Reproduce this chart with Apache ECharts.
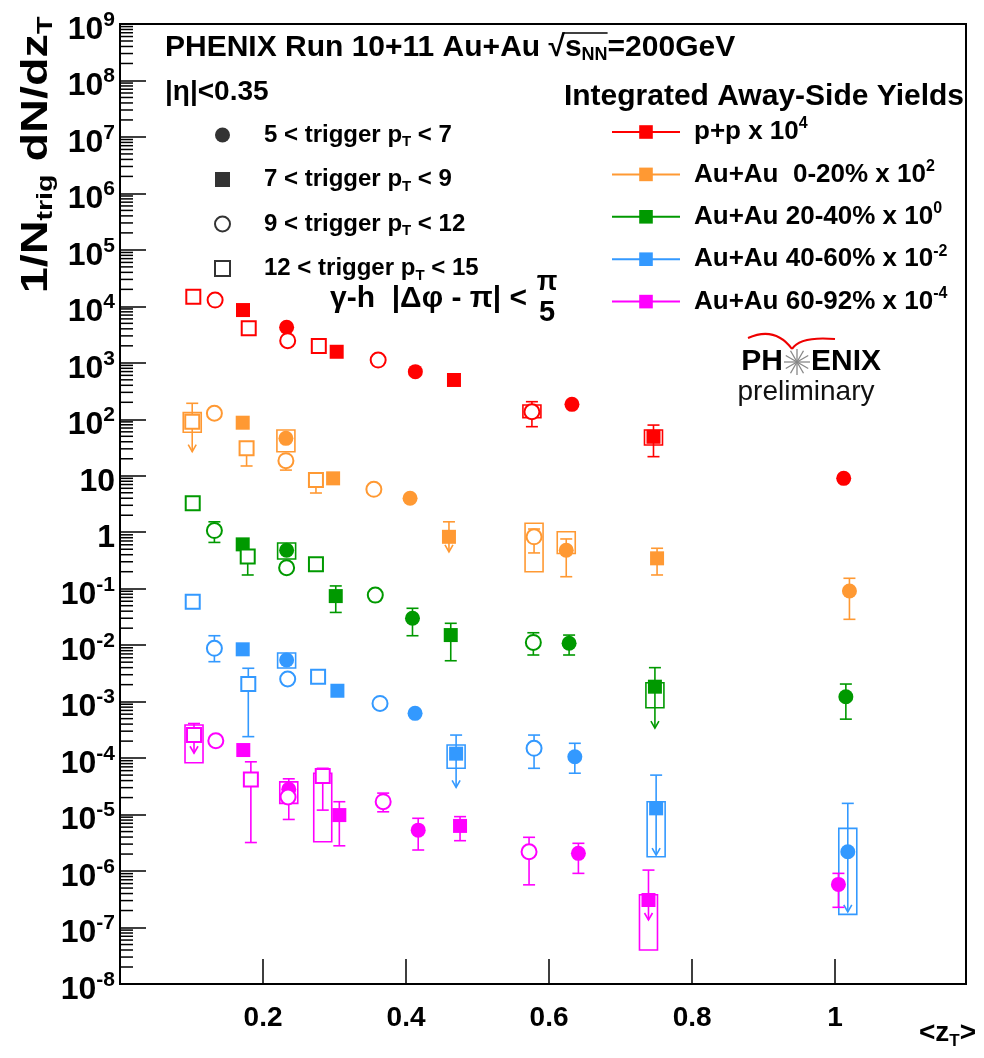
<!DOCTYPE html>
<html><head><meta charset="utf-8">
<script src="https://cdn.jsdelivr.net/npm/echarts@6/dist/echarts.min.js"></script>
<style>html,body{margin:0;padding:0;background:#fff}#c{width:984px;height:1058px}</style>
</head><body><div id="c"></div>
<script>
// ---------------- DATA ----------------
// row: [zT, yield, marker, statLo, statHi, sysLo, sysHi, upperLimitArrowTip]
// markers: fc = 5<pT<7, fs = 7<pT<9, oc = 9<pT<12, os = 12<pT<15
const ppRows = [
  [0.1025, 14800, 'os'], [0.133, 12900, 'oc'], [0.172, 8600, 'fs'], [0.180, 4100, 'os'],
  [0.233, 4260, 'fc'], [0.2345, 2470, 'oc'], [0.278, 1990, 'os'], [0.303, 1570, 'fs'],
  [0.361, 1120, 'oc'], [0.413, 697, 'fc'], [0.467, 497, 'fs'],
  [0.576, 136, 'oc', 74, 205, 107, 179], [0.632, 184, 'fc'],
  [0.746, 49, 'fs', 21.8, 79, 35, 64.6], [1.012, 9.0, 'fc']
];
const auau0020Rows = [
  [0.101, 90.7, 'os', null, 192, 58.9, 131, 26.7], [0.132, 128, 'oc'], [0.1716, 87, 'fs'],
  [0.177, 30.6, 'os', 14.9, null], [0.232, 46, 'fc', null, null, 26.7, 64.6],
  [0.232, 18.5, 'oc', 12.6, null], [0.274, 8.4, 'os', 4.95, null], [0.298, 9.0, 'fs'],
  [0.355, 5.75, 'oc'], [0.4056, 4.0, 'fc'], [0.460, 0.83, 'fs', null, 1.53, null, null, 0.45],
  [0.579, 0.83, 'oc', 0.43, 1.14, 0.20, 1.44], [0.624, 0.48, 'fc', 0.163, 0.76, 0.42, 1.02],
  [0.751, 0.345, 'fs', 0.175, 0.52], [1.020, 0.091, 'fc', 0.0287, 0.153]
];
const auau2040Rows = [
  [0.1017, 3.25, 'os'], [0.132, 1.07, 'oc', 0.66, 1.53], [0.1716, 0.61, 'fs'],
  [0.1786, 0.37, 'os', 0.175, null], [0.233, 0.48, 'fc', null, null, 0.336, 0.644],
  [0.233, 0.235, 'oc'], [0.274, 0.27, 'os'], [0.3017, 0.074, 'fs', 0.038, 0.112],
  [0.357, 0.077, 'oc'], [0.409, 0.030, 'fc', 0.0147, 0.045], [0.4625, 0.0151, 'fs', 0.0053, 0.0244],
  [0.578, 0.0112, 'oc', 0.0067, 0.0166], [0.628, 0.0108, 'fc', 0.0067, 0.0151],
  [0.748, 0.00184, 'fs', null, 0.0040, 0.00078, 0.00216, 0.00034], [1.015, 0.00122, 'fc', 0.00049, 0.00205]
];
const auau4060Rows = [
  [0.1017, 0.059, 'os'], [0.132, 0.0088, 'oc', 0.0051, 0.0147], [0.1716, 0.00845, 'fs'],
  [0.1794, 0.00205, 'os', 0.00024, 0.0039], [0.233, 0.00546, 'fc', null, null, 0.00394, 0.00726],
  [0.2345, 0.00252, 'oc'], [0.277, 0.00277, 'os'], [0.304, 0.00156, 'fs'], [0.3636, 0.00093, 'oc'],
  [0.4126, 0.00062, 'fc'], [0.470, 1.2e-4, 'fs', null, 2.56e-4, 6.6e-5, 1.71e-4, 3.04e-5],
  [0.579, 1.49e-4, 'oc', 6.6e-5, 2.56e-4], [0.636, 1.06e-4, 'fc', 5.4e-5, 1.83e-4],
  [0.7497, 1.29e-5, 'fs', null, 5.0e-5, 1.79e-6, 1.69e-5, 1.92e-6],
  [1.0177, 2.2e-6, 'fc', null, 1.58e-5, 1.71e-7, 5.7e-6, 1.9e-7]
];
const auau6092Rows = [
  [0.1035, 2.57e-4, 'os', null, 4.1e-4, 8.3e-5, 3.85e-4, 1.22e-4], [0.134, 2.03e-4, 'oc'],
  [0.1724, 1.39e-4, 'fs'], [0.183, 4.2e-5, 'os', 3.2e-6, 8.6e-5],
  [0.236, 2.8e-5, 'fc', 8.2e-6, 4.3e-5, 1.58e-5, 3.8e-5], [0.235, 2.05e-5, 'oc'],
  [0.2835, 4.8e-5, 'os', 1.2e-5, 6.6e-5, 3.3e-6, 5.4e-5], [0.3067, 9.8e-6, 'fs', 2.8e-6, 1.69e-5],
  [0.368, 1.69e-5, 'oc', 1.12e-5, 2.4e-5], [0.417, 5.3e-6, 'fc', 2.36e-6, 8.6e-6],
  [0.4755, 6.3e-6, 'fs', 3.45e-6, 9.2e-6], [0.572, 2.2e-6, 'oc', 5.7e-7, 3.96e-6],
  [0.641, 2.06e-6, 'fc', 9.1e-7, 3.1e-6], [0.739, 3.07e-7, 'fs', null, 1.04e-6, 4.0e-8, 3.8e-7, 1.36e-7],
  [1.0046, 5.8e-7, 'fc', 2.28e-7, 9.1e-7]
];
const groupNames = ['pp', 'auau0020', 'auau2040', 'auau4060', 'auau6092'];
const groupRows = [ppRows, auau0020Rows, auau2040Rows, auau4060Rows, auau6092Rows];
const groupLegend = [['p+p x 10', '4'], ['Au+Au  0-20% x 10', '2'], ['Au+Au 20-40% x 10', '0'],
                     ['Au+Au 40-60% x 10', '-2'], ['Au+Au 60-92% x 10', '-4']];
const triggerLegend = [['5 < trigger p', 'T', ' < 7'], ['7 < trigger p', 'T', ' < 9'],
                       ['9 < trigger p', 'T', ' < 12'], ['12 < trigger p', 'T', ' < 15']];
const triggerKeys = ['fc', 'fs', 'oc', 'os'];
const xTickLabels = ['0.2', '0.4', '0.6', '0.8', '1'];

// ---------------- STYLE ----------------
const COLORS = ['#ff0000', '#ff9933', '#009900', '#3399ff', '#ff00ff'];
const FONT = 'Liberation Sans, Arial, sans-serif';
const SYM = {fc: 'circle', fs: 'rect', oc: 'emptyCircle', os: 'emptyRect'};
const SYMSIZE = {fc: 15, fs: 14, oc: 15, os: 14};

const chart = echarts.init(document.getElementById('c'), null, {renderer: 'canvas'});

const series = [];
groupRows.forEach((rows, gi) => {
  const col = COLORS[gi];
  series.push({
    type: 'custom', name: groupNames[gi] + '_err', z: 2, clip: false, silent: true,
    data: rows.map(r => [r[0], r[1]]),
    renderItem: (params, api) => {
      const r = rows[params.dataIndex];
      const p = api.coord([r[0], r[1]]);
      const ch = [];
      const ls = {stroke: col, lineWidth: 1.6, fill: null};
      if (r[5] != null && r[6] != null) {
        const a = api.coord([r[0], r[6]]), b = api.coord([r[0], r[5]]);
        ch.push({type: 'rect', shape: {x: p[0] - 9, y: a[1], width: 18, height: b[1] - a[1]}, style: {stroke: col, lineWidth: 1.6, fill: 'none'}});
      }
      if (r[4] != null) {
        const h = api.coord([r[0], r[4]]);
        ch.push({type: 'line', shape: {x1: p[0], y1: p[1], x2: p[0], y2: h[1]}, style: ls});
        ch.push({type: 'line', shape: {x1: p[0] - 6, y1: h[1], x2: p[0] + 6, y2: h[1]}, style: ls});
      }
      if (r[3] != null) {
        const l = api.coord([r[0], r[3]]);
        ch.push({type: 'line', shape: {x1: p[0], y1: p[1], x2: p[0], y2: l[1]}, style: ls});
        ch.push({type: 'line', shape: {x1: p[0] - 6, y1: l[1], x2: p[0] + 6, y2: l[1]}, style: ls});
      }
      if (r[7] != null) {
        const t = api.coord([r[0], r[7]]);
        ch.push({type: 'line', shape: {x1: p[0], y1: p[1], x2: p[0], y2: t[1]}, style: ls});
        ch.push({type: 'polyline', shape: {points: [[p[0] - 4, t[1] - 7], [p[0], t[1]], [p[0] + 4, t[1] - 7]]}, style: ls});
      }
      return {type: 'group', children: ch};
    }
  });
  series.push({
    type: 'scatter', name: groupNames[gi], z: 3, silent: true,
    itemStyle: {color: col, opacity: 1},
    data: rows.map(r => ({value: [r[0], r[1]], symbol: SYM[r[2]], symbolSize: SYMSIZE[r[2]]}))
  });
  // legend proxy
  series.push({type: 'line', name: 'L' + gi, data: [], symbol: 'rect', color: col, lineStyle: {width: 1.6}});
});
triggerKeys.forEach((k, i) => {
  series.push({type: 'scatter', name: 'T' + i, data: [], symbol: SYM[k], color: '#000'});
});
// y minor ticks (axis decoration)
const yMinor = [];
for (let n = -8; n < 9; n++) for (let k = 2; k < 10; k++) yMinor.push([0, k * Math.pow(10, n)]);
series.push({
  type: 'custom', name: 'minor', silent: true, clip: false, z: 5, data: yMinor,
  renderItem: (params, api) => {
    const p = api.coord([api.value(0), api.value(1)]);
    return {type: 'line', shape: {x1: p[0], y1: p[1], x2: p[0] + 13, y2: p[1]}, style: {stroke: '#000', lineWidth: 1.5}};
  }
});

const richBase = (size) => ({fontSize: size, fontWeight: 'bold', fontFamily: FONT, color: '#000'});

// measure header for sqrt overline
const ctx = document.createElement('canvas').getContext('2d');
const HF = 30, HSUB = 18;
ctx.font = 'bold ' + HF + 'px ' + FONT;
const w0 = ctx.measureText('PHENIX Run 10+11 Au+Au ').width;
const w1 = ctx.measureText('√').width;
const w2 = ctx.measureText('s').width;
ctx.font = 'bold ' + HSUB + 'px ' + FONT;
const w3 = ctx.measureText('NN').width;
const HX = 165, HY = 48;

// star of PHENIX logo
const starC = [797, 362], starR = 13;
const starLines = [];
for (let i = 0; i < 12; i++) {
  const a = i * Math.PI / 6;
  starLines.push({type: 'line', shape: {x1: starC[0], y1: starC[1], x2: starC[0] + starR * Math.cos(a), y2: starC[1] + starR * Math.sin(a)}, style: {stroke: '#888', lineWidth: 1.3}});
}

const option = {
  animation: false,
  backgroundColor: '#fff',
  grid: {left: 120, top: 24, right: 18, bottom: 74, show: true, borderColor: '#000', borderWidth: 2, containLabel: false},
  xAxis: {
    type: 'value', min: 0, max: 1.183, interval: 0.2,
    axisLine: {show: true, onZero: false, lineStyle: {color: '#000', width: 2}},
    axisTick: {show: true, inside: true, length: 25, lineStyle: {color: '#000', width: 1.5}},
    splitLine: {show: false},
    axisLabel: {
      showMinLabel: false, showMaxLabel: false, margin: 20,
      fontSize: 28, fontWeight: 'bold', fontFamily: FONT, color: '#000',
      formatter: v => { const i = Math.round(v / 0.2) - 1; return (Math.abs(v - (i + 1) * 0.2) < 1e-6 && i >= 0 && i < xTickLabels.length) ? xTickLabels[i] : ''; }
    }
  },
  yAxis: {
    type: 'log', logBase: 10, min: 1e-8, max: 1e9, interval: 1,
    axisLine: {show: true, onZero: false, lineStyle: {color: '#000', width: 2}},
    axisTick: {show: true, inside: true, length: 26, lineStyle: {color: '#000', width: 1.5}},
    splitLine: {show: false}, minorTick: {show: false},
    axisLabel: {
      margin: 5, fontFamily: FONT, color: '#000',
      formatter: v => {
        const e = Math.round(Math.log10(v));
        if (e === 0) return '{b|1}';
        if (e === 1) return '{b|10}';
        return '{b|10}{s|' + e + '}';
      },
      rich: {
        b: Object.assign(richBase(32), {padding: [12, 0, 0, 0]}),
        s: Object.assign(richBase(21), {padding: [0, 0, 8, 0]})
      }
    }
  },
  legend: [
    {
      data: ['L0', 'L1', 'L2', 'L3', 'L4'], orient: 'vertical', left: 606, top: 111,
      itemWidth: 68, itemHeight: 17, itemGap: 12.4, selectedMode: false,
      formatter: name => { const l = groupLegend[+name.slice(1)]; return '{t|' + l[0] + '}{s|' + l[1] + '}'; },
      textStyle: {
        padding: [0, 0, 0, 9], lineHeight: 28,
        rich: {t: richBase(26), s: Object.assign(richBase(16), {padding: [0, 0, 16, 0]})}
      }
    },
    {
      data: ['T0', 'T1', 'T2', 'T3'], orient: 'vertical', left: 209, top: 116,
      itemWidth: 15, itemHeight: 15, itemGap: 16, selectedMode: false,
      formatter: name => { const l = triggerLegend[+name.slice(1)]; return '{t|' + l[0] + '}{sub|' + l[1] + '}{t|' + l[2] + '}'; },
      textStyle: {
        padding: [0, 0, 0, 29], lineHeight: 28,
        rich: {t: richBase(24), sub: Object.assign(richBase(15), {padding: [14, 0, 0, 0]})}
      }
    }
  ],
  graphic: [
    {type: 'text', x: HX, y: HY, style: {
      text: '{t|PHENIX Run 10+11 Au+Au √s}{sub|NN}{t|=200GeV}', align: 'left', verticalAlign: 'middle',
      rich: {t: richBase(HF), sub: Object.assign(richBase(HSUB), {padding: [15, 0, 0, 0]})}}},
    {type: 'line', shape: {x1: HX + w0 + w1 * 0.85, y1: HY - 15, x2: HX + w0 + w1 + w2 + w3, y2: HY - 15}, style: {stroke: '#000', lineWidth: 1.5}},
    {type: 'text', x: 165, y: 92, style: {text: '|η|<0.35', align: 'left', verticalAlign: 'middle', font: 'bold 28px ' + FONT, fill: '#000'}},
    {type: 'text', x: 964, y: 97, style: {text: 'Integrated Away-Side Yields', align: 'right', verticalAlign: 'middle', font: 'bold 30px ' + FONT, fill: '#000'}},
    {type: 'text', x: 330, y: 299, style: {text: 'γ-h  |Δφ - π| <', align: 'left', verticalAlign: 'middle', font: 'bold 30px ' + FONT, fill: '#000'}},
    {type: 'text', x: 547, y: 283, style: {text: 'π', align: 'center', verticalAlign: 'middle', font: 'bold 27px ' + FONT, fill: '#000'}},
    {type: 'text', x: 547, y: 313, style: {text: '5', align: 'center', verticalAlign: 'middle', font: 'bold 29px ' + FONT, fill: '#000'}},
    {type: 'text', x: starC[0] - 14, y: starC[1], style: {text: 'PH', align: 'right', verticalAlign: 'middle', font: 'bold 30px ' + FONT, fill: '#000'}},
    {type: 'text', x: starC[0] + 14, y: starC[1], style: {text: 'ENIX', align: 'left', verticalAlign: 'middle', font: 'bold 30px ' + FONT, fill: '#000'}},
    {type: 'group', children: starLines},
    {type: 'text', x: 806, y: 392, style: {text: 'preliminary', align: 'center', verticalAlign: 'middle', font: '28px ' + FONT, fill: '#111'}},
    {type: 'bezierCurve', shape: {x1: 748, y1: 338, x2: 792, y2: 349, cpx1: 775, cpy1: 326}, style: {stroke: '#e00', lineWidth: 2, fill: 'none'}},
    {type: 'bezierCurve', shape: {x1: 792, y1: 349, x2: 835, y2: 339, cpx1: 800, cpy1: 336}, style: {stroke: '#e00', lineWidth: 2, fill: 'none'}},
    {type: 'text', x: 37, y: 155, rotation: Math.PI / 2, scaleX: 1.3, style: {
      text: '{t|1/N}{sub|trig}{t| dN/dz}{sub|T}', align: 'center', verticalAlign: 'middle',
      rich: {t: richBase(36), sub: Object.assign(richBase(22), {padding: [18, 0, 0, 0]})}}},
    {type: 'text', x: 976, y: 1033, style: {
      text: '{t|<z}{sub|T}{t|>}', align: 'right', verticalAlign: 'middle',
      rich: {t: richBase(28), sub: Object.assign(richBase(17), {padding: [16, 0, 0, 0]})}}}
  ],
  series: series
};
chart.setOption(option);
</script>
</body></html>
